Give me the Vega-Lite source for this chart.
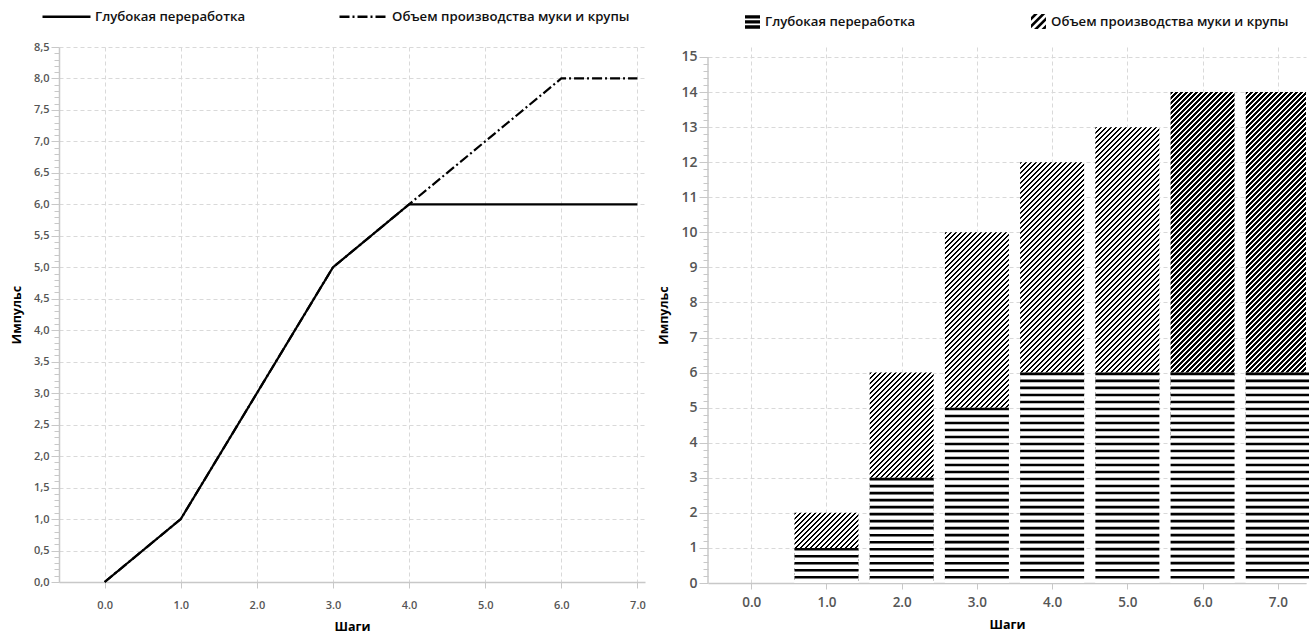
{
"$schema": "https://vega.github.io/schema/vega-lite/v6.json",
"padding": {"left": 10, "top": 9, "right": 0, "bottom": 0},
"spacing": 11,
"align": "none",
"resolve": {"scale": {"shape": "independent", "strokeDash": "independent", "x": "independent", "y": "independent"}, "legend": {"shape": "independent", "strokeDash": "independent"}},
"config": {
  "view": {"stroke": null},
  "font": "Open Sans",
  "axis": {"domainColor": "#c8c8c8", "domainWidth": 1.5, "tickColor": "#c8c8c8", "tickWidth": 1, "gridColor": "#d9d9d9", "gridDash": [4, 3], "gridWidth": 1, "labelColor": "#555", "labelFont": "Open Sans", "labelFontWeight": 600, "titleFont": "Open Sans", "titleFontWeight": "bold", "titleColor": "#000", "labelOverlap": false, "labelFlush": false, "labelBound": false},
  "legend": {"labelFont": "Open Sans", "labelFontWeight": 600, "labelColor": "#111", "labelFontSize": 13.2, "labelLimit": 500}
},
"datasets": {"steps": [
  {"step": 0, "series": "Глубокая переработка", "value": 0},
  {"step": 1, "series": "Глубокая переработка", "value": 1},
  {"step": 2, "series": "Глубокая переработка", "value": 3},
  {"step": 3, "series": "Глубокая переработка", "value": 5},
  {"step": 4, "series": "Глубокая переработка", "value": 6},
  {"step": 5, "series": "Глубокая переработка", "value": 6},
  {"step": 6, "series": "Глубокая переработка", "value": 6},
  {"step": 7, "series": "Глубокая переработка", "value": 6},
  {"step": 0, "series": "Объем производства муки и крупы", "value": 0},
  {"step": 1, "series": "Объем производства муки и крупы", "value": 1},
  {"step": 2, "series": "Объем производства муки и крупы", "value": 3},
  {"step": 3, "series": "Объем производства муки и крупы", "value": 5},
  {"step": 4, "series": "Объем производства муки и крупы", "value": 6},
  {"step": 5, "series": "Объем производства муки и крупы", "value": 7},
  {"step": 6, "series": "Объем производства муки и крупы", "value": 8},
  {"step": 7, "series": "Объем производства муки и крупы", "value": 8}
]},
"hconcat": [
{
  "width": 586, "height": 535,
  "data": {"name": "steps"},
  "mark": {"type": "line", "color": "#000", "strokeWidth": 2.2},
  "encoding": {
    "x": {"field": "step", "type": "quantitative", "scale": {"domain": [-0.6, 7.1], "nice": false, "zero": false, "padding": 0},
      "axis": {"title": "Шаги", "values": [0, 1, 2, 3, 4, 5, 6, 7], "format": ".1f", "tickSize": 6, "labelPadding": 11, "labelFontSize": 11, "titleFontSize": 12.5, "titlePadding": 10, "grid": true}},
    "y": {"field": "value", "type": "quantitative", "scale": {"domain": [0, 8.5], "nice": false},
      "axis": {"title": "Импульс", "titleFontSize": 12.5, "titlePadding": 10, "labelFontSize": 11, "labelPadding": 2,
        "values": [0,0.1,0.2,0.3,0.4,0.5,0.6,0.7,0.8,0.9,1,1.1,1.2,1.3,1.4,1.5,1.6,1.7,1.8,1.9,2,2.1,2.2,2.3,2.4,2.5,2.6,2.7,2.8,2.9,3,3.1,3.2,3.3,3.4,3.5,3.6,3.7,3.8,3.9,4,4.1,4.2,4.3,4.4,4.5,4.6,4.7,4.8,4.9,5,5.1,5.2,5.3,5.4,5.5,5.6,5.7,5.8,5.9,6,6.1,6.2,6.3,6.4,6.5,6.6,6.7,6.8,6.9,7,7.1,7.2,7.3,7.4,7.5,7.6,7.7,7.8,7.9,8,8.1,8.2,8.3,8.4,8.5],
        "labelExpr": "abs(datum.value*2-round(datum.value*2))<0.001 ? replace(format(datum.value,'.1f'),'.',',') : ''",
        "tickSize": {"condition": {"test": "abs(datum.value*2-round(datum.value*2))<0.001", "value": 8}, "value": 5},
        "gridOpacity": {"condition": {"test": "abs(datum.value*2-round(datum.value*2))<0.001", "value": 1}, "value": 0}}},
    "strokeDash": {"field": "series", "type": "nominal",
      "scale": {"domain": ["Глубокая переработка", "Объем производства муки и крупы"], "range": [[1, 0], [10, 3, 2, 3]]},
      "legend": {"title": null, "orient": "none", "legendX": 0, "legendY": -38, "direction": "horizontal", "symbolType": "M-4,0H4", "symbolSize": 144, "symbolStrokeWidth": 2.5, "symbolStrokeColor": "#000", "labelOffset": 21, "columnPadding": 88}}
  }
},
{
  "width": 598, "height": 536,
  "data": {"name": "steps"},
  "transform": [{"stack": "value", "groupby": ["step"], "sort": [{"field": "series", "order": "ascending"}], "as": ["v0", "v1"]}],
  "encoding": {
    "x": {"field": "step", "type": "quantitative", "scale": {"domain": [-0.575, 7.375], "nice": false, "zero": false, "padding": 0},
      "axis": {"title": "Шаги", "values": [0, 1, 2, 3, 4, 5, 6, 7], "format": ".1f", "tickSize": 6, "labelPadding": 6, "labelFontSize": 13.5, "titleFontSize": 12.5, "titlePadding": 10, "grid": true}},
    "y": {"field": "v1", "type": "quantitative", "scale": {"domain": [0, 15.285], "nice": false},
      "axis": {"title": "Импульс", "titleFontSize": 12.5, "titlePadding": 10, "labelFontSize": 14, "labelPadding": 2, "domain": false,
        "values": [0,0.2,0.4,0.6,0.8,1,1.2,1.4,1.6,1.8,2,2.2,2.4,2.6,2.8,3,3.2,3.4,3.6,3.8,4,4.2,4.4,4.6,4.8,5,5.2,5.4,5.6,5.8,6,6.2,6.4,6.6,6.8,7,7.2,7.4,7.6,7.8,8,8.2,8.4,8.6,8.8,9,9.2,9.4,9.6,9.8,10,10.2,10.4,10.6,10.8,11,11.2,11.4,11.6,11.8,12,12.2,12.4,12.6,12.8,13,13.2,13.4,13.6,13.8,14,14.2,14.4,14.6,14.8,15],
        "labelExpr": "abs(datum.value-round(datum.value))<0.001 ? format(datum.value,'d') : ''",
        "tickSize": {"condition": {"test": "abs(datum.value-round(datum.value))<0.001", "value": 9}, "value": 5},
        "gridOpacity": {"condition": {"test": "abs(datum.value-round(datum.value))<0.001", "value": 1}, "value": 0}}}
  },
  "layer": [
    {
      "transform": [{"filter": "datum.series === 'Объем производства муки и крупы'"}],
      "mark": {"type": "bar", "width": 64, "y2Offset": 530, "clip": true,
        "fill": {"gradient": "linear", "x1": 0, "y1": 0, "x2": 0.11228, "y2": 0.92984, "stops": [
{"offset":0,"color":"#000"},{"offset":0.005,"color":"#000"},{"offset":0.005,"color":"#fff"},{"offset":0.01,"color":"#fff"},
{"offset":0.01,"color":"#000"},{"offset":0.015,"color":"#000"},{"offset":0.015,"color":"#fff"},{"offset":0.02,"color":"#fff"},
{"offset":0.02,"color":"#000"},{"offset":0.025,"color":"#000"},{"offset":0.025,"color":"#fff"},{"offset":0.03,"color":"#fff"},
{"offset":0.03,"color":"#000"},{"offset":0.035,"color":"#000"},{"offset":0.035,"color":"#fff"},{"offset":0.04,"color":"#fff"},
{"offset":0.04,"color":"#000"},{"offset":0.045,"color":"#000"},{"offset":0.045,"color":"#fff"},{"offset":0.05,"color":"#fff"},
{"offset":0.05,"color":"#000"},{"offset":0.055,"color":"#000"},{"offset":0.055,"color":"#fff"},{"offset":0.06,"color":"#fff"},
{"offset":0.06,"color":"#000"},{"offset":0.065,"color":"#000"},{"offset":0.065,"color":"#fff"},{"offset":0.07,"color":"#fff"},
{"offset":0.07,"color":"#000"},{"offset":0.075,"color":"#000"},{"offset":0.075,"color":"#fff"},{"offset":0.08,"color":"#fff"},
{"offset":0.08,"color":"#000"},{"offset":0.085,"color":"#000"},{"offset":0.085,"color":"#fff"},{"offset":0.09,"color":"#fff"},
{"offset":0.09,"color":"#000"},{"offset":0.095,"color":"#000"},{"offset":0.095,"color":"#fff"},{"offset":0.1,"color":"#fff"},
{"offset":0.1,"color":"#000"},{"offset":0.105,"color":"#000"},{"offset":0.105,"color":"#fff"},{"offset":0.11,"color":"#fff"},
{"offset":0.11,"color":"#000"},{"offset":0.115,"color":"#000"},{"offset":0.115,"color":"#fff"},{"offset":0.12,"color":"#fff"},
{"offset":0.12,"color":"#000"},{"offset":0.125,"color":"#000"},{"offset":0.125,"color":"#fff"},{"offset":0.13,"color":"#fff"},
{"offset":0.13,"color":"#000"},{"offset":0.135,"color":"#000"},{"offset":0.135,"color":"#fff"},{"offset":0.14,"color":"#fff"},
{"offset":0.14,"color":"#000"},{"offset":0.145,"color":"#000"},{"offset":0.145,"color":"#fff"},{"offset":0.15,"color":"#fff"},
{"offset":0.15,"color":"#000"},{"offset":0.155,"color":"#000"},{"offset":0.155,"color":"#fff"},{"offset":0.16,"color":"#fff"},
{"offset":0.16,"color":"#000"},{"offset":0.165,"color":"#000"},{"offset":0.165,"color":"#fff"},{"offset":0.17,"color":"#fff"},
{"offset":0.17,"color":"#000"},{"offset":0.175,"color":"#000"},{"offset":0.175,"color":"#fff"},{"offset":0.18,"color":"#fff"},
{"offset":0.18,"color":"#000"},{"offset":0.185,"color":"#000"},{"offset":0.185,"color":"#fff"},{"offset":0.19,"color":"#fff"},
{"offset":0.19,"color":"#000"},{"offset":0.195,"color":"#000"},{"offset":0.195,"color":"#fff"},{"offset":0.2,"color":"#fff"},
{"offset":0.2,"color":"#000"},{"offset":0.205,"color":"#000"},{"offset":0.205,"color":"#fff"},{"offset":0.21,"color":"#fff"},
{"offset":0.21,"color":"#000"},{"offset":0.215,"color":"#000"},{"offset":0.215,"color":"#fff"},{"offset":0.22,"color":"#fff"},
{"offset":0.22,"color":"#000"},{"offset":0.225,"color":"#000"},{"offset":0.225,"color":"#fff"},{"offset":0.23,"color":"#fff"},
{"offset":0.23,"color":"#000"},{"offset":0.235,"color":"#000"},{"offset":0.235,"color":"#fff"},{"offset":0.24,"color":"#fff"},
{"offset":0.24,"color":"#000"},{"offset":0.245,"color":"#000"},{"offset":0.245,"color":"#fff"},{"offset":0.25,"color":"#fff"},
{"offset":0.25,"color":"#000"},{"offset":0.255,"color":"#000"},{"offset":0.255,"color":"#fff"},{"offset":0.26,"color":"#fff"},
{"offset":0.26,"color":"#000"},{"offset":0.265,"color":"#000"},{"offset":0.265,"color":"#fff"},{"offset":0.27,"color":"#fff"},
{"offset":0.27,"color":"#000"},{"offset":0.275,"color":"#000"},{"offset":0.275,"color":"#fff"},{"offset":0.28,"color":"#fff"},
{"offset":0.28,"color":"#000"},{"offset":0.285,"color":"#000"},{"offset":0.285,"color":"#fff"},{"offset":0.29,"color":"#fff"},
{"offset":0.29,"color":"#000"},{"offset":0.295,"color":"#000"},{"offset":0.295,"color":"#fff"},{"offset":0.3,"color":"#fff"},
{"offset":0.3,"color":"#000"},{"offset":0.305,"color":"#000"},{"offset":0.305,"color":"#fff"},{"offset":0.31,"color":"#fff"},
{"offset":0.31,"color":"#000"},{"offset":0.315,"color":"#000"},{"offset":0.315,"color":"#fff"},{"offset":0.32,"color":"#fff"},
{"offset":0.32,"color":"#000"},{"offset":0.325,"color":"#000"},{"offset":0.325,"color":"#fff"},{"offset":0.33,"color":"#fff"},
{"offset":0.33,"color":"#000"},{"offset":0.335,"color":"#000"},{"offset":0.335,"color":"#fff"},{"offset":0.34,"color":"#fff"},
{"offset":0.34,"color":"#000"},{"offset":0.345,"color":"#000"},{"offset":0.345,"color":"#fff"},{"offset":0.35,"color":"#fff"},
{"offset":0.35,"color":"#000"},{"offset":0.355,"color":"#000"},{"offset":0.355,"color":"#fff"},{"offset":0.36,"color":"#fff"},
{"offset":0.36,"color":"#000"},{"offset":0.365,"color":"#000"},{"offset":0.365,"color":"#fff"},{"offset":0.37,"color":"#fff"},
{"offset":0.37,"color":"#000"},{"offset":0.375,"color":"#000"},{"offset":0.375,"color":"#fff"},{"offset":0.38,"color":"#fff"},
{"offset":0.38,"color":"#000"},{"offset":0.385,"color":"#000"},{"offset":0.385,"color":"#fff"},{"offset":0.39,"color":"#fff"},
{"offset":0.39,"color":"#000"},{"offset":0.395,"color":"#000"},{"offset":0.395,"color":"#fff"},{"offset":0.4,"color":"#fff"},
{"offset":0.4,"color":"#000"},{"offset":0.405,"color":"#000"},{"offset":0.405,"color":"#fff"},{"offset":0.41,"color":"#fff"},
{"offset":0.41,"color":"#000"},{"offset":0.415,"color":"#000"},{"offset":0.415,"color":"#fff"},{"offset":0.42,"color":"#fff"},
{"offset":0.42,"color":"#000"},{"offset":0.425,"color":"#000"},{"offset":0.425,"color":"#fff"},{"offset":0.43,"color":"#fff"},
{"offset":0.43,"color":"#000"},{"offset":0.435,"color":"#000"},{"offset":0.435,"color":"#fff"},{"offset":0.44,"color":"#fff"},
{"offset":0.44,"color":"#000"},{"offset":0.445,"color":"#000"},{"offset":0.445,"color":"#fff"},{"offset":0.45,"color":"#fff"},
{"offset":0.45,"color":"#000"},{"offset":0.455,"color":"#000"},{"offset":0.455,"color":"#fff"},{"offset":0.46,"color":"#fff"},
{"offset":0.46,"color":"#000"},{"offset":0.465,"color":"#000"},{"offset":0.465,"color":"#fff"},{"offset":0.47,"color":"#fff"},
{"offset":0.47,"color":"#000"},{"offset":0.475,"color":"#000"},{"offset":0.475,"color":"#fff"},{"offset":0.48,"color":"#fff"},
{"offset":0.48,"color":"#000"},{"offset":0.485,"color":"#000"},{"offset":0.485,"color":"#fff"},{"offset":0.49,"color":"#fff"},
{"offset":0.49,"color":"#000"},{"offset":0.495,"color":"#000"},{"offset":0.495,"color":"#fff"},{"offset":0.5,"color":"#fff"},
{"offset":0.5,"color":"#000"},{"offset":0.505,"color":"#000"},{"offset":0.505,"color":"#fff"},{"offset":0.51,"color":"#fff"},
{"offset":0.51,"color":"#000"},{"offset":0.515,"color":"#000"},{"offset":0.515,"color":"#fff"},{"offset":0.52,"color":"#fff"},
{"offset":0.52,"color":"#000"},{"offset":0.525,"color":"#000"},{"offset":0.525,"color":"#fff"},{"offset":0.53,"color":"#fff"},
{"offset":0.53,"color":"#000"},{"offset":0.535,"color":"#000"},{"offset":0.535,"color":"#fff"},{"offset":0.54,"color":"#fff"},
{"offset":0.54,"color":"#000"},{"offset":0.545,"color":"#000"},{"offset":0.545,"color":"#fff"},{"offset":0.55,"color":"#fff"},
{"offset":0.55,"color":"#000"},{"offset":0.555,"color":"#000"},{"offset":0.555,"color":"#fff"},{"offset":0.56,"color":"#fff"},
{"offset":0.56,"color":"#000"},{"offset":0.565,"color":"#000"},{"offset":0.565,"color":"#fff"},{"offset":0.57,"color":"#fff"},
{"offset":0.57,"color":"#000"},{"offset":0.575,"color":"#000"},{"offset":0.575,"color":"#fff"},{"offset":0.58,"color":"#fff"},
{"offset":0.58,"color":"#000"},{"offset":0.585,"color":"#000"},{"offset":0.585,"color":"#fff"},{"offset":0.59,"color":"#fff"},
{"offset":0.59,"color":"#000"},{"offset":0.595,"color":"#000"},{"offset":0.595,"color":"#fff"},{"offset":0.6,"color":"#fff"},
{"offset":0.6,"color":"#000"},{"offset":0.605,"color":"#000"},{"offset":0.605,"color":"#fff"},{"offset":0.61,"color":"#fff"},
{"offset":0.61,"color":"#000"},{"offset":0.615,"color":"#000"},{"offset":0.615,"color":"#fff"},{"offset":0.62,"color":"#fff"},
{"offset":0.62,"color":"#000"},{"offset":0.625,"color":"#000"},{"offset":0.625,"color":"#fff"},{"offset":0.63,"color":"#fff"},
{"offset":0.63,"color":"#000"},{"offset":0.635,"color":"#000"},{"offset":0.635,"color":"#fff"},{"offset":0.64,"color":"#fff"},
{"offset":0.64,"color":"#000"},{"offset":0.645,"color":"#000"},{"offset":0.645,"color":"#fff"},{"offset":0.65,"color":"#fff"},
{"offset":0.65,"color":"#000"},{"offset":0.655,"color":"#000"},{"offset":0.655,"color":"#fff"},{"offset":0.66,"color":"#fff"},
{"offset":0.66,"color":"#000"},{"offset":0.665,"color":"#000"},{"offset":0.665,"color":"#fff"},{"offset":0.67,"color":"#fff"},
{"offset":0.67,"color":"#000"},{"offset":0.675,"color":"#000"},{"offset":0.675,"color":"#fff"},{"offset":0.68,"color":"#fff"},
{"offset":0.68,"color":"#000"},{"offset":0.685,"color":"#000"},{"offset":0.685,"color":"#fff"},{"offset":0.69,"color":"#fff"},
{"offset":0.69,"color":"#000"},{"offset":0.695,"color":"#000"},{"offset":0.695,"color":"#fff"},{"offset":0.7,"color":"#fff"}
        ]}},
      "encoding": {"y2": {"field": "v1"}}
    },
    {
      "transform": [{"filter": "datum.series === 'Глубокая переработка'"}],
      "mark": {"type": "bar", "width": 64, "fill": "#fff"},
      "encoding": {"y2": {"field": "v0"}}
    },
    {
      "transform": [{"filter": "datum.series === 'Глубокая переработка'"}],
      "mark": {"type": "rule", "strokeWidth": 64, "strokeDash": [2.6, 4.41], "color": "#000"},
      "encoding": {"y2": {"field": "v0"}}
    },
    {
      "transform": [{"filter": "datum.step === 0 && datum.series === 'Глубокая переработка'"}],
      "mark": {"type": "rule", "color": "#c8c8c8", "strokeWidth": 1.5},
      "encoding": {"x": {"datum": -0.575, "type": "quantitative", "axis": {"title": "Шаги"}}, "y2": {"datum": 15}}
    },
    {
      "mark": {"type": "point", "filled": true, "opacity": 0, "color": "#000"},
      "encoding": {"shape": {"field": "series", "type": "nominal",
        "scale": {"domain": ["Глубокая переработка", "Объем производства муки и крупы"],
          "range": ["M-1,-0.9H1V-0.45H-1Z M-1,-0.22H1V0.22H-1Z M-1,0.45H1V0.9H-1Z", "M-1,-0.6L-0.6,-1L-0.1,-1L-1,-0.1Z M-1,0.4L0.4,-1L0.9,-1L-1,0.9Z M-0.6,1L1,-0.6L1,-0.1L-0.1,1Z M0.4,1L1,0.4L1,0.9L0.9,1Z"]},
        "legend": {"title": null, "orient": "none", "legendX": 37, "legendY": -33, "direction": "horizontal", "symbolSize": 225, "symbolFillColor": "#000", "symbolStrokeWidth": 0, "symbolOpacity": 1, "labelOffset": 5, "columnPadding": 115}}}
    }
  ]
}
]
}
